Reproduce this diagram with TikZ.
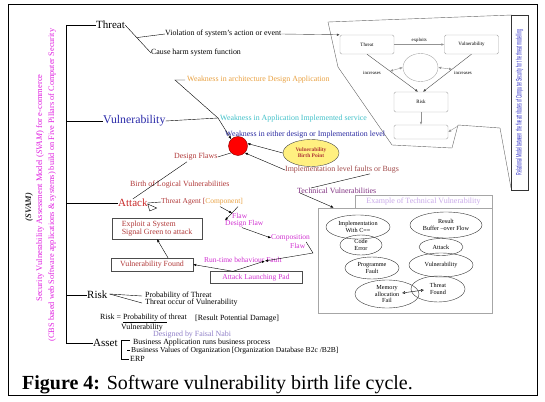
\documentclass[tikz,border=0pt]{standalone}
\usepackage{fontspec}
\setmainfont{Liberation Serif}
\newfontfamily\relsans{Liberation Sans}
\usetikzlibrary{shapes.geometric,arrows.meta,calc}
\definecolor{mag}{HTML}{E020E0}
\definecolor{magc}{HTML}{D030D0}
\definecolor{vblue}{HTML}{2828A8}
\definecolor{attred}{HTML}{C82828}
\definecolor{dred}{HTML}{B03838}
\definecolor{orangec}{HTML}{E8A040}
\definecolor{cyanc}{HTML}{40C0C8}
\definecolor{navyc}{HTML}{2828A0}
\definecolor{brownc}{HTML}{A04848}
\definecolor{purplec}{HTML}{803080}
\definecolor{lavc}{HTML}{C8A8E8}
\definecolor{lavd}{HTML}{9080C8}
\definecolor{yellowc}{HTML}{FFF080}
\definecolor{relblue}{HTML}{3030C8}
\begin{document}
\begin{tikzpicture}[x=1pt,y=-1pt,
  lbl/.style={inner sep=0pt, anchor=west, font=\fontsize{7.9}{8.5}\selectfont},
  mlbl/.style={inner sep=0pt, anchor=west, text=magc, font=\fontsize{7.5}{8}\selectfont},
  big/.style={inner sep=0pt, anchor=west, font=\fontsize{11}{12}\selectfont},
  tiny/.style={inner sep=0pt, font=\fontsize{4.8}{5.2}\selectfont},
  tmbox/.style={draw=gray!70, rounded corners=1.5pt, minimum width=54pt, minimum height=19pt, inner sep=0pt, font=\fontsize{5}{5.5}\selectfont},
  ell/.style={ellipse, draw=black!80, inner sep=-3pt, align=center, font=\fontsize{6.2}{6.8}\selectfont},
  arr/.style={-{Latex[length=3pt,width=2.5pt]}},
  garr/.style={draw=gray!85, -{Latex[length=3pt,width=2.5pt]}},
  rbox/.style={draw=black!70, inner sep=0pt, font=\fontsize{7.9}{8.5}\selectfont}
]
\useasboundingbox (0,0) rectangle (545,401);
\draw[line width=0.8pt] (8,4) rectangle (537,395);

% caption
\node[anchor=west, inner sep=0pt, font=\fontsize{20}{22}\selectfont] (cap) at (22,385) {\textbf{Figure 4:} Software vulnerability birth life cycle.};

% left vertical titles
\node[rotate=90, inner sep=0pt, font=\bfseries\itshape\fontsize{8.5}{9}\selectfont, text=black!85] (svam1) at (29,207) {(SVAM)};
\node[rotate=90, inner sep=0pt, text=mag, font=\fontsize{8.5}{9}\selectfont] (svam2) at (40,188) {Security Vulnerability Assessment Model (\textit{SVAM}) for e-commerce};
\node[rotate=90, inner sep=0pt, text=mag, font=\fontsize{8.3}{9}\selectfont] (svam3) at (52,185) {(CBS based web Software applications \& systems) build on Five Pillars of Computer Security};

% tree
\coordinate (spine) at (66,25);
\coordinate (spineb) at (66,343);
\node[big] (threat) at (96,25) {Threat};
\node[big, text=vblue, font=\fontsize{11.8}{12}\selectfont] (vuln) at (103,121) {Vulnerability};
\node[big, text=attred] (attack) at (118,203) {Attack};
\node[big] (risk) at (87,295) {Risk};
\node[big] (asset) at (93,343) {Asset};
\draw (spine) -- (spineb);
\draw (spine) -- (threat.west);
\draw (spine |- vuln.west) -- (vuln.west);
\draw (spine |- attack.west) -- (attack.west);
\draw (spine |- risk.west) -- (risk.west);
\draw (spine |- asset.west) -- (asset.west);

% right threat model
\node[tmbox] (tbox) at (367,44.5) {Threat};
\node[tmbox] (vbox) at (471.5,44.5) {Vulnerability};
\node[ellipse, draw=gray!70, minimum width=35pt, minimum height=28pt, inner sep=0pt] (circ) at (420.5,67.5) {};
\node[tmbox, minimum height=20pt] (rbx) at (421,102) {Risk};
\node[tmbox, minimum height=14pt] (ebox) at (421,132) {};
\draw[garr] (tbox) -- (vbox) node[midway, above=2pt, tiny] (expl) {exploits};
\draw[arr, draw=black!70] (tbox.south) -- ([xshift=-3pt]rbx.north);
\draw[arr, draw=black!70] (vbox.south) -- ([xshift=2pt]rbx.north);
\node[tiny] (inc1) at (372,73) {increases};
\node[tiny] (inc2) at (463,73) {increases};
\coordinate (dl) at ($(tbox.south)!0.45!([xshift=-3pt]rbx.north)$);
\coordinate (dr) at ($(vbox.south)!0.4!([xshift=2pt]rbx.north)$);
\draw[gray!85, {Latex[length=3pt,width=2.5pt]}-{Latex[length=3pt,width=2.5pt]}] (dl) -- (circ.west);
\draw[gray!85, {Latex[length=3pt,width=2.5pt]}-{Latex[length=3pt,width=2.5pt]}] (circ.east) -- (dr);
\draw[garr] (rbx) -- (ebox);
\draw[gray!80!black, line width=0.4pt] (328,22) -- (512,15);
\draw[gray!80!black, line width=0.4pt] (328,22) -- (338,67) -- (392,145) -- (452,148) -- (458,125) -- (500,128) -- (511,188);
\coordinate (pk) at (458,126);
\draw[garr] (pk) -- (ebox.east);
\node[draw=black!80, minimum width=17pt, minimum height=175pt, inner sep=0pt] (relbox) at (519.5,102.5) {};
\node[rotate=90, inner sep=0pt, text=relblue, font=\relsans\fontsize{8}{9}\selectfont] (reltext) at (relbox.center) {\scalebox{0.46}[1]{Relational Model between the five attributes of Computer Security for the threat modelling}};

% threat branch
\node[lbl] (cause) at (151,53) {Cause harm system function};
\node[lbl] (viol) at (165,34) {Violation of system's action or event};
\draw (threat.east) -- (cause.west);
\coordinate (tj) at ($(threat.east)!0.45!(cause.west)$);
\draw (tj) -- (viol.west);
\draw[arr, draw=black!70] (viol.east) -- (tbox.north west);

% vulnerability branch
\node[lbl, text=orangec] (warch) at (187,80) {Weakness in architecture Design Application};
\node[lbl, text=cyanc] (wapp) at (220,119) {Weakness in Application Implemented service};
\node[lbl, text=navyc] (weither) at (225,135) {Weakness in either design or Implementation level};
\coordinate (vj) at (218,118);
\coordinate (va) at (175,80);
\draw (vuln.east) -- (vj);
\draw (vj) -- (va) -- ([xshift=-2pt]warch.west);
\node[circle, fill=red, draw=red!50!black, minimum size=19pt, inner sep=0pt] (rc) at (238,146) {};
\draw[arr] (vj) -- (rc.north west);
\node[ellipse, draw=black!70, fill=yellowc, minimum width=56pt, minimum height=27pt, inner sep=0pt, align=center, text=dred, font=\bfseries\fontsize{5.5}{6}\selectfont] (birth) at (311,153) {Vulnerability\\Birth Point};
\draw[arr] (birth.west) -- (rc.15);
\node[lbl, text=brownc] (impl) at (285,170) {Implementation level faults or Bugs};
\draw[arr] (impl.west) -- (rc.south east);

% technical vulnerabilities
\node[lbl, text=purplec] (tech) at (297,191) {Technical Vulnerabilities};
\draw ($(impl.south west)+(85,0)$) -- ($(tech.north west)+(14,0)$);
\node[draw=gray!70, line width=0.8pt, minimum width=137pt, minimum height=13pt, inner sep=0pt, text=lavc, font=\fontsize{8}{8.5}\selectfont] (extitle) at (423.5,201.5) {Example of Technical Vulnerability};
\node[draw=gray!70, line width=0.8pt, minimum width=174pt, minimum height=105pt, inner sep=0pt] (exbox) at (405,260.5) {};
\draw[arr] ($(tech.west)+(3,2)$) -- ($(exbox.north west)+(16,0)$);
\node[ell, minimum width=64pt, minimum height=24pt] (e1) at (358,227) {Implementation\\With C==};
\node[ell, minimum width=42pt, minimum height=20pt] (e2) at (361,245) {Code\\Error};
\node[ell, minimum width=54pt, minimum height=22pt] (e3) at (372,268) {Programme\\Fault};
\node[ell, minimum width=64pt, minimum height=28pt] (e4) at (387,294) {Memory\\allocation\\Fail};
\node[ell, minimum width=72pt, minimum height=26pt] (e5) at (446,225) {Result\\Buffer --over Flow};
\node[ell, minimum width=44pt, minimum height=17pt] (e6) at (441,247) {Attack};
\node[ell, minimum width=64pt, minimum height=24pt] (e7) at (441,265) {Vulnerability};
\node[ell, minimum width=54pt, minimum height=26pt] (e8) at (438,289) {Threat\\Found};
\draw[{Latex[open,length=3pt,width=3pt]}-{Latex[open,length=3pt,width=3pt]}] ($(e4.center)+(15,-1)$) -- ($(e8.center)+(-14,1)$);

% attack area
\node[lbl, text=dred] (dflaws) at (174,157) {Design Flaws};
\draw (rc.south west) -- (dflaws.east);
\node[lbl, text=dred] (birthlog) at (130,185) {Birth of Logical Vulnerabilities};
\draw ($(dflaws.south west)+(13,1)$) -- (attack.north);
\node[lbl, text=dred, font=\fontsize{7.5}{8}\selectfont] (agent) at (161,202) {Threat Agent [\textcolor{orangec}{Component]}};
\draw (attack.east) -- (agent.west);
\draw ($(attack.east)+(0,1)$) -- ++(2,7) -- ++(7,-3) -- cycle;
\node[rbox, text=dred, minimum width=90pt, minimum height=21pt, align=left] (exploit) at (157,228.5) {Exploit a System\\Signal Green to attack};
\node[rbox, text=dred, minimum width=82pt, minimum height=13pt] (vfound) at (152,264.5) {Vulnerability Found};
\draw[arr] ($(vfound.north)+(16,0)$) -- (exploit.south);
\node[mlbl] (flaw) at (232,216) {Flaw};
\node[mlbl] (dflaw) at (225,224) {Design Flaw};
\draw[arr] ($(agent.south west)+(59,1)$) -- (flaw.north west);
\draw[arr] ($(agent.south west)+(77,1)$) -- (dflaw.north west);
\node[mlbl] (comp) at (271,238) {Composition};
\node[mlbl] (compf) at (290,246) {Flaw};
\draw[arr] ($(dflaw.south west)+(17,0)$) -- (comp.west);
\node[mlbl] (runtime) at (204,260) {Run-time behaviour Fault};
\node[rbox, text=magc, font=\fontsize{7.5}{8}\selectfont, minimum width=92pt, minimum height=12pt] (pad) at (256,277.5) {Attack Launching Pad};
\coordinate (cf) at (313,253);
\coordinate (rtend) at ($(runtime.east)+(-17,1)$);
\draw[arr] ($(comp.east)+(-4,4)$) -- (cf) -- (rtend);
\coordinate (padtop) at ($(pad.north)+(-23,0)$);
\draw[arr] (padtop) -- (vfound.east);
\draw[arr] (padtop) -- (rtend);

% risk
\node[lbl] (prob) at (145,296) {Probability of Threat};
\node[lbl] (occur) at (145,303) {Threat occur of Vulnerability};
\draw ($(risk.east)+(2,-1)$) -- ($(prob.west)+(-3,0)$);
\draw ($(risk.east)+(2,-1)$) -- ($(occur.west)+(-3,0)$);
\node[lbl] (formula) at (100,318.5) {Risk = \underline{Probability of} threat};
\node[lbl] (damage) at (195,318.5) {[Result Potential Damage]};
\node[lbl] (fden) at (121,327.5) {Vulnerability};
\node[lbl, text=lavd] (design) at (153,335) {Designed by Faisal Nabi};

% asset
\node[lbl] (ba) at (133,342.5) {Business Application runs business process};
\node[lbl, font=\fontsize{7.6}{8}\selectfont] (bv) at (131,350.5) {Business Values of Organization [Organization Database B2c /B2B]};
\node[lbl] (erp) at (130,358.5) {ERP};
\draw ($(ba.west)+(-3,-2)$) -- ($(ba.west)+(-12,-2)$) -- ($(erp.west)+(-9,1)$) -- ($(erp.west)+(-1,1)$);
\draw ($(bv.west)+(-4,0)$) -- ($(bv.west)+(-1,0)$);
\end{tikzpicture}
\end{document}
